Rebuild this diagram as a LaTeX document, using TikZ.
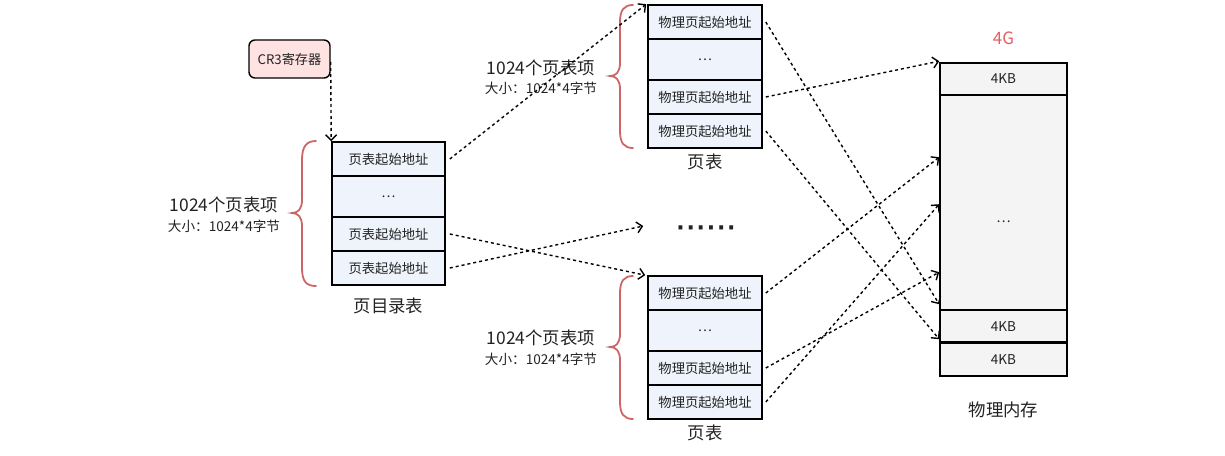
\documentclass[tikz,border=0pt]{standalone}
\usepackage{fontspec}
\setmainfont{Noto Sans CJK SC}
\newfontfamily\dejavu{DejaVu Sans}
\usetikzlibrary{arrows.meta,calc}
\definecolor{cellblue}{HTML}{EEF3FC}
\definecolor{memgray}{HTML}{F4F4F4}
\definecolor{cr3pink}{HTML}{FFE3E3}
\definecolor{bracered}{HTML}{CC6666}
\definecolor{redtxt}{HTML}{E06060}
\definecolor{txt}{HTML}{222222}
\tikzset{
  cell/.style={draw=black, line width=1.6pt, fill=cellblue, inner sep=0pt, text=txt,
    font=\fontsize{13.3}{15}\selectfont, minimum width=113pt, minimum height=34pt},
  memcell/.style={draw=black, line width=1.6pt, fill=memgray, inner sep=0pt, text=txt,
    font=\fontsize{13.5}{15}\selectfont, minimum width=127pt},
  lbl/.style={text=txt, font=\fontsize{17.4}{19}\selectfont, inner sep=0pt},
  sublbl/.style={text=txt, font=\fontsize{13.6}{15}\selectfont, inner sep=0pt},
  darr/.style={line width=1.4pt, dash pattern=on 3pt off 3pt, -{Straight Barb[length=5.5pt,width=11pt,line width=1.4pt]}},
  bracestyle/.style={draw=bracered, line width=1.8pt, line cap=round}
}
\begin{document}
\begin{tikzpicture}[x=1pt,y=-1pt]
\useasboundingbox (0,0) rectangle (1225,455);

% CR3 register
\node[draw=black, line width=1.4pt, rounded corners=6pt, fill=cr3pink, minimum width=81pt, minimum height=38pt,
  inner sep=0pt, text=txt, font=\fontsize{13.2}{15}\selectfont] (cr3) at (289.5,59) {CR3寄存器};

% Page directory
\node[cell] (pd1) at (388.5,159) {页表起始地址};
\node[cell, minimum height=41pt] (pd2) at (388.5,196.5) {…};
\node[cell] (pd3) at (388.5,234) {页表起始地址};
\node[cell] (pd4) at (388.5,268) {页表起始地址};
\node[lbl] (pdl) at (388.5,306) {页目录表};

% top page table
\node[cell, minimum width=114pt] (pt1) at (705,22) {物理页起始地址};
\node[cell, minimum width=114pt, minimum height=41pt] (pt2) at (705,59.5) {…};
\node[cell, minimum width=114pt] (pt3) at (705,97) {物理页起始地址};
\node[cell, minimum width=114pt] (pt4) at (705,131) {物理页起始地址};
\node[lbl] (ptl) at (705,162) {页表};

% bottom page table
\node[cell, minimum width=114pt] (pb1) at (705,293) {物理页起始地址};
\node[cell, minimum width=114pt, minimum height=41pt] (pb2) at (705,330.5) {…};
\node[cell, minimum width=114pt] (pb3) at (705,368) {物理页起始地址};
\node[cell, minimum width=114pt] (pb4) at (705,402) {物理页起始地址};
\node[lbl] (pbl) at (705,433) {页表};

% dots
\node[text=txt, font=\dejavu\bfseries\fontsize{22}{22}\selectfont, inner sep=0pt] (dots) at (706,231)
  {·\kern1.8pt·\kern1.8pt·\kern1.8pt·\kern1.8pt·\kern1.8pt·};

% physical memory
\node[memcell, minimum height=32pt] (m1) at (1003.5,79) {4KB};
\node[memcell, minimum height=215pt] (m2) at (1003.5,202.5) {};
\node[text=txt, font=\fontsize{13.5}{15}\selectfont, inner sep=0pt] (m2t) at (1003.5,222) {…};
\node[memcell, minimum height=33pt] (m3) at (1003.5,326.5) {4KB};
\node[memcell, minimum height=33pt] (m4) at (1003.5,359.5) {4KB};
\draw[line width=3pt] (m4.north west) -- (m4.north east);
\node[text=redtxt, font=\fontsize{17}{19}\selectfont, inner sep=0pt] (g4) at (1003.5,38) {4G};
\node[lbl] (ml) at (1003.5,410) {物理内存};

% braces
\draw[bracestyle] (316,141) .. controls (306,141) and (302,147) .. (302,160) -- (302,200)
  .. controls (302,209) and (298,213) .. (292,213) .. controls (298,213) and (302,217) .. (302,226)
  -- (302,268) .. controls (302,281) and (306,286) .. (316,286);
\node[lbl] (l1a) at (224,205) {1024个页表项};
\node[sublbl] (l1b) at (224,226) {大小：1024*4字节};

\draw[bracestyle] (633,5) .. controls (624,5) and (620,10) .. (620,22) -- (620,63)
  .. controls (620,72) and (616,76) .. (610,76) .. controls (616,76) and (620,80) .. (620,89)
  -- (620,131) .. controls (620,143) and (624,148) .. (633,148);
\node[lbl] (l2a) at (541,68) {1024个页表项};
\node[sublbl] (l2b) at (541,88) {大小：1024*4字节};

\draw[bracestyle] (633,276) .. controls (624,276) and (620,281) .. (620,293) -- (620,334)
  .. controls (620,343) and (616,347) .. (610,347) .. controls (616,347) and (620,351) .. (620,360)
  -- (620,402) .. controls (620,414) and (624,419) .. (633,419);
\node[lbl] (l3a) at (541,338) {1024个页表项};
\node[sublbl] (l3b) at (541,359) {大小：1024*4字节};

% connectors
\draw[darr] ([yshift=-3pt]cr3.east) -- (pd1.north west);
\draw[darr] ([xshift=4pt]pd1.east) -- ([xshift=-1pt]pt1.north west);
\draw[darr] ([xshift=4pt]pd3.east) -- ([xshift=-2pt]pb1.north west);
\draw[darr] ([xshift=4pt]pd4.east) -- ($(dots.west)+(-33,-5)$);

\draw[darr] ([xshift=3pt]pt1.east) -- ($(m3.north west)+(0,-5)$);
\draw[darr] ([xshift=3pt]pt3.east) -- ($(m1.north west)+(0,-1)$);
\draw[darr] ([xshift=3pt]pt4.east) -- ($(m4.north west)+(0,-3)$);

\draw[darr] ([xshift=3pt]pb1.east) -- ($(m2.north west)+(0,63)$);
\draw[darr] ([xshift=3pt]pb3.east) -- ($(m2.north west)+(0,178)$);
\draw[darr] ([xshift=3pt]pb4.east) -- ($(m2.north west)+(0,110)$);
\end{tikzpicture}
\end{document}
